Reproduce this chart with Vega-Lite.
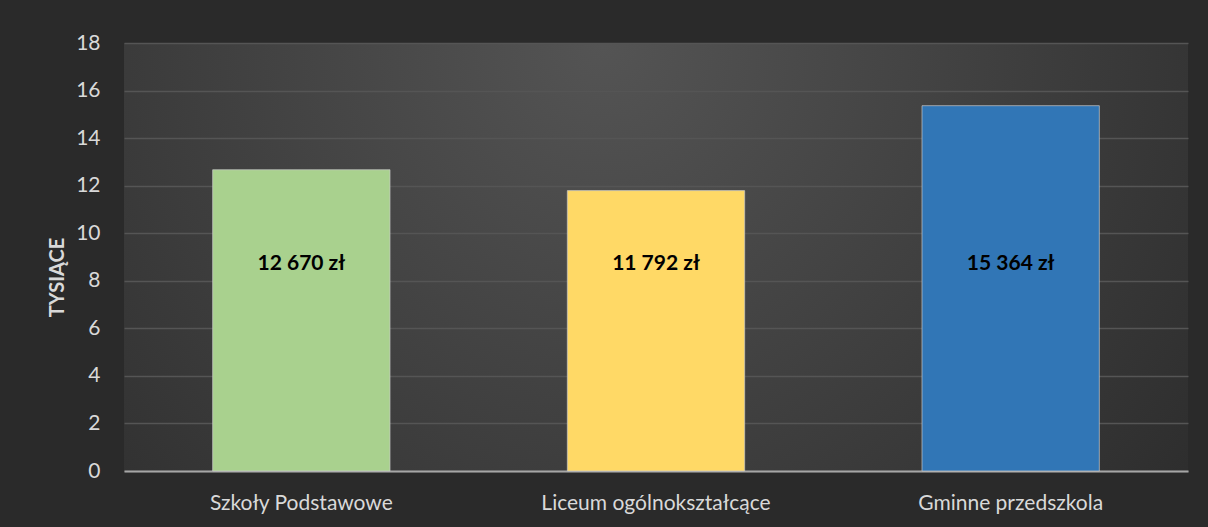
{
  "$schema": "https://vega.github.io/schema/vega-lite/v6.json",
  "autosize": {"type": "none"},
  "width": 1064,
  "height": 428,
  "padding": {"left": 124, "top": 43, "right": 20, "bottom": 56},
  "background": "#2a2a2a",
  "view": {
    "stroke": null,
    "fill": {
      "gradient": "radial",
      "x1": 0.45, "y1": 0.3, "r1": 0,
      "x2": 0.45, "y2": 0.3, "r2": 0.75,
      "stops": [
        {"offset": 0, "color": "#545454"},
        {"offset": 1, "color": "#2a2a2a"}
      ]
    }
  },
  "config": {
    "font": "Lato",
    "axis": {"labelFont": "Lato", "titleFont": "Lato"}
  },
  "data": {
    "values": [
      {"kategoria": "Szkoły Podstawowe", "tysiace": 12.67, "etykieta": "12 670 zł"},
      {"kategoria": "Liceum ogólnokształcące", "tysiace": 11.792, "etykieta": "11 792 zł"},
      {"kategoria": "Gminne przedszkola", "tysiace": 15.364, "etykieta": "15 364 zł"}
    ]
  },
  "encoding": {
    "x": {
      "field": "kategoria",
      "type": "nominal",
      "sort": null,
      "scale": {"paddingInner": 0.5, "paddingOuter": 0.25},
      "axis": {
        "title": null,
        "labelAngle": 0,
        "labelFontSize": 21,
        "labelColor": "#d9d9d9",
        "labelPadding": 21,
        "labelLimit": 0,
        "ticks": false,
        "domainColor": "#a6a6a6",
        "domainWidth": 2
      }
    }
  },
  "layer": [
    {
      "mark": {"type": "bar", "stroke": "#c8c8c8", "strokeWidth": 1, "strokeOpacity": 0.7},
      "encoding": {
        "y": {
          "field": "tysiace",
          "type": "quantitative",
          "scale": {"domain": [0, 18]},
          "axis": {
            "title": "TYSIĄCE",
            "titleColor": "#d9d9d9",
            "titleFontSize": 20,
            "titleFontWeight": "bold",
            "titleAngle": -90,
            "titleX": -67,
            "titleY": 234,
            "titleAlign": "center",
            "titleBaseline": "middle",
            "values": [0, 2, 4, 6, 8, 10, 12, 14, 16, 18],
            "labelFontSize": 21,
            "labelColor": "#d9d9d9",
            "labelPadding": 24,
            "ticks": false,
            "domain": false,
            "gridColor": "#555555",
            "gridWidth": 1.5
          }
        },
        "color": {
          "field": "kategoria",
          "type": "nominal",
          "sort": null,
          "scale": {"range": ["#a9d18e", "#ffd966", "#3176b6"]},
          "legend": null
        }
      }
    },
    {
      "mark": {"type": "text", "fontSize": 21, "fontWeight": "bold", "color": "#000000"},
      "encoding": {
        "y": {"datum": 8.7, "type": "quantitative"},
        "text": {"field": "etykieta"}
      }
    }
  ]
}
